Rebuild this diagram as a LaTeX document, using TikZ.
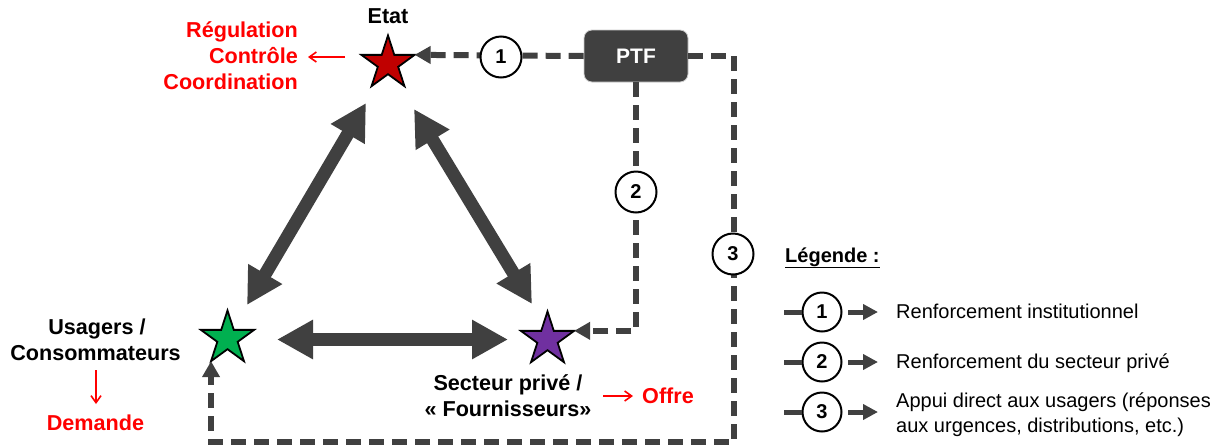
\documentclass[tikz,border=0pt]{standalone}
\usepackage{fontspec}
\setmainfont{Liberation Sans}
\usetikzlibrary{arrows.meta,shapes.geometric}
\definecolor{dk}{HTML}{404040}
\definecolor{rd}{HTML}{FF0000}
\tikzset{
  starnode/.style={star,star points=5,star point ratio=2.618,draw=black,line width=1.8pt,minimum size=56pt,inner sep=0pt,outer sep=0pt},
  boldlabel/.style={font=\fontsize{21.6}{26}\selectfont\bfseries,inner sep=0pt,anchor=base},
  redlabel/.style={boldlabel,text=rd},
  circ/.style={circle,draw=black,fill=white,line width=2pt,minimum size=41pt,inner sep=0pt,font=\fontsize{20}{24}\selectfont\bfseries},
  bigarrow/.style={draw=dk,line width=13pt,{Triangle[length=36pt,width=37pt]}-{Triangle[length=36pt,width=37pt]}},
  dashline/.style={draw=dk,line width=6pt,dash pattern=on 15pt off 8pt},
  dashtip/.style={-{Triangle[length=16pt,width=17pt]}},
  redarrow/.style={draw=rd,line width=1.6pt,-{Straight Barb[length=7pt,width=10pt]}},
  legtext/.style={font=\fontsize{20}{25}\selectfont,inner sep=0pt,anchor=base west},
  legdash/.style={draw=dk,line width=5pt},
  legarrow/.style={draw=dk,line width=5pt,-{Triangle[length=15pt,width=15pt]}},
}
\begin{document}
\begin{tikzpicture}[x=1pt,y=-1pt]
\useasboundingbox (0,0) rectangle (1215,445);
% stars
\node[starnode,fill={rgb,255:red,192;green,0;blue,0}] (etat) at (388,63.5) {};
\node[starnode,fill={rgb,255:red,0;green,176;blue,80}] (usagers) at (227.5,338.5) {};
\node[starnode,fill={rgb,255:red,112;green,48;blue,160}] (prive) at (547.5,339.5) {};
% PTF
\node[draw=white!80!black,fill=dk,rounded corners=8pt,minimum width=104pt,minimum height=52pt,line width=0.8pt,inner sep=0pt,text=white,font=\fontsize{21}{25}\selectfont\bfseries] (ptf) at (636,56) {PTF};
% thick arrows
\coordinate (a1) at (366,103); \coordinate (a2) at (247,305);
\coordinate (b1) at (414,109); \coordinate (b2) at (532,304);
\coordinate (c1) at (277,339.5); \coordinate (c2) at (508,339.5);
\draw[bigarrow] (a1) -- (a2);
\draw[bigarrow] (b1) -- (b2);
\draw[bigarrow] (c1) -- (c2);
% dashed
\coordinate (cornerTR) at (734,56);
\coordinate (cornerBR) at (734,442);
\coordinate (cornerBL) at (usagers.outer point 3 |- cornerBR);
\draw[dashline,dashtip] (ptf.west) -- (etat.outer point 5);
\draw[dashline,dashtip] (ptf.south) |- (prive.outer point 5);
\draw[dashline,dashtip] (ptf.east) -- (cornerTR) -- (cornerBR) -- (cornerBL) -- (usagers.outer point 3);
% circles
\node[circ] (n1) at (501,57) {1};
\node[circ] (n2) at (636,192) {2};
\node[circ] (n3) at (733,254) {3};
% labels
\node[boldlabel] (tetat) at (388,23) {Etat};
\node[redlabel,anchor=base east] (reg) at (298,37) {Régulation};
\node[redlabel,anchor=base east] (con) at (298,63) {Contrôle};
\node[redlabel,anchor=base east] (coo) at (298,89.5) {Coordination};
\node[boldlabel] (us1) at (97,334) {Usagers /};
\node[boldlabel] (us2) at (95.5,360) {Consommateurs};
\node[redlabel] (dem) at (95.5,430) {Demande};
\node[boldlabel] (sp1) at (508,390) {Secteur privé /};
\node[boldlabel] (sp2) at (508,416) {« Fournisseurs»};
\node[redlabel] (off) at (668,403) {Offre};
\coordinate (ra1) at (345,57); \coordinate (ra2) at (308,57);
\coordinate (rb1) at (96,370); \coordinate (rb2) at (96,404);
\coordinate (rc1) at (603,396); \coordinate (rc2) at (633,396);
\draw[redarrow] (ra1) -- (ra2);
\draw[redarrow] (rb1) -- (rb2);
\draw[redarrow] (rc1) -- (rc2);
% legend
\node[font=\fontsize{20}{24}\selectfont\bfseries,inner sep=0pt,anchor=base west] (leg) at (785,262) {\underline{Légende :}};
\foreach \r/\yy in {1/312,2/362,3/412}{
  \node[circ,minimum size=39pt] (l\r) at (822,\yy) {\r};
  \coordinate (ls\r) at (784,\yy);
  \coordinate (le\r) at (878,\yy);
  \coordinate (lm\r) at (848,\yy);
  \draw[legdash] (ls\r) -- (l\r.west);
  \draw[legarrow] (lm\r) -- (le\r);
}
\node[legtext] (lt1) at (896,318) {Renforcement institutionnel};
\node[legtext] (lt2) at (896,368) {Renforcement du secteur privé};
\node[legtext] (lt3) at (896,407) {Appui direct aux usagers (réponses};
\node[legtext] (lt3b) at (896,432) {aux urgences, distributions, etc.)};
\end{tikzpicture}
\end{document}
